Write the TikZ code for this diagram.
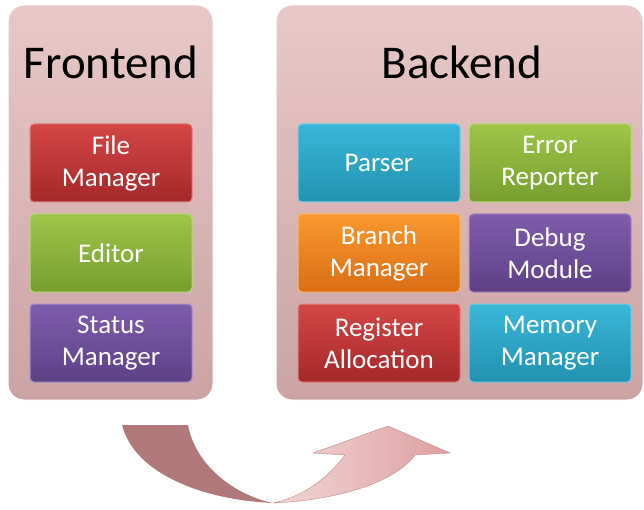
\documentclass[tikz,border=0pt]{standalone}
\usepackage{fontspec}
\setmainfont{Carlito}
\usetikzlibrary{positioning}

\definecolor{panelTop}{RGB}{232,200,200}
\definecolor{panelBot}{RGB}{203,163,163}
\definecolor{redTop}{RGB}{212,70,70}
\definecolor{redBot}{RGB}{165,40,42}
\definecolor{greenTop}{RGB}{158,198,72}
\definecolor{greenBot}{RGB}{118,158,48}
\definecolor{purpleTop}{RGB}{128,92,172}
\definecolor{purpleBot}{RGB}{94,64,134}
\definecolor{blueTop}{RGB}{58,182,216}
\definecolor{blueBot}{RGB}{34,146,176}
\definecolor{orangeTop}{RGB}{250,152,46}
\definecolor{orangeBot}{RGB}{218,110,22}
\definecolor{arrowDark}{RGB}{176,120,120}
\definecolor{arrowLight}{RGB}{242,214,214}
\definecolor{arrowHead}{RGB}{222,160,160}

\begin{document}
\begin{tikzpicture}[x=1pt,y=-1pt,node distance=11pt]

	\tikzstyle{panel}=[rounded corners=16pt,draw=white,line width=1pt,top color=panelTop,bottom color=panelBot]
	\tikzstyle{title}=[font=\fontsize{47}{56}\selectfont,text=black]
	\tikzstyle{module}=[rectangle,rounded corners=4pt,minimum width=162pt,minimum height=78pt,align=center,text=white,font=\fontsize{27}{32}\selectfont,line width=1pt,inner sep=1pt]
	\tikzstyle{redbox}=[module,top color=redTop,bottom color=redBot,draw=redTop!70!white]
	\tikzstyle{greenbox}=[module,top color=greenTop,bottom color=greenBot,draw=greenTop!70!white]
	\tikzstyle{purplebox}=[module,top color=purpleTop,bottom color=purpleBot,draw=purpleTop!70!white]
	\tikzstyle{bluebox}=[module,top color=blueTop,bottom color=blueBot,draw=blueTop!70!white]
	\tikzstyle{orangebox}=[module,top color=orangeTop,bottom color=orangeBot,draw=orangeTop!70!white]

	\useasboundingbox (0,0) rectangle (644,510);

	% the two panels
	\path[panel] (8,5) rectangle (213,400);
	\path[panel] (276,5) rectangle (643,400);

	\node[title] (fronttitle) at (111,62) {Frontend};
	\node[title] (backtitle) at (462,62) {Backend};

	% frontend modules
	\node[redbox] (filemgr) at (111,163) {File\\Manager};
	\node[greenbox] (editor) [below=of filemgr] {Editor};
	\node[purplebox] (statusmgr) [below=of editor] {Status\\Manager};

	% backend modules
	\node[bluebox] (parser) at (379,163) {Parser};
	\node[greenbox] (errrep) [right=8pt of parser] {Error\\Reporter};
	\node[orangebox] (branchmgr) [below=of parser] {Branch\\Manager};
	\node[purplebox] (debugmod) [below=of errrep] {Debug\\Module};
	\node[redbox] (regalloc) [below=of branchmgr] {Register\\Allocation};
	\node[bluebox] (memmgr) [below=of debugmod] {Memory\\Manager};

	% the curved arrow below
	\fill[arrowDark] (122,425) -- (188,425)
		.. controls (196,468) and (238,496) .. (273,503)
		.. controls (205,500) and (135,475) .. (122,425) -- cycle;
	\shade[left color=arrowLight,right color=arrowHead,draw=arrowHead!85!black,line width=0.4pt]
		(273,503) .. controls (340,500) and (395,482) .. (415,455)
		-- (450,453) -- (388,426) -- (313,453) -- (345,455)
		.. controls (325,482) and (298,498) .. (273,503) -- cycle;
\end{tikzpicture}
\end{document}
